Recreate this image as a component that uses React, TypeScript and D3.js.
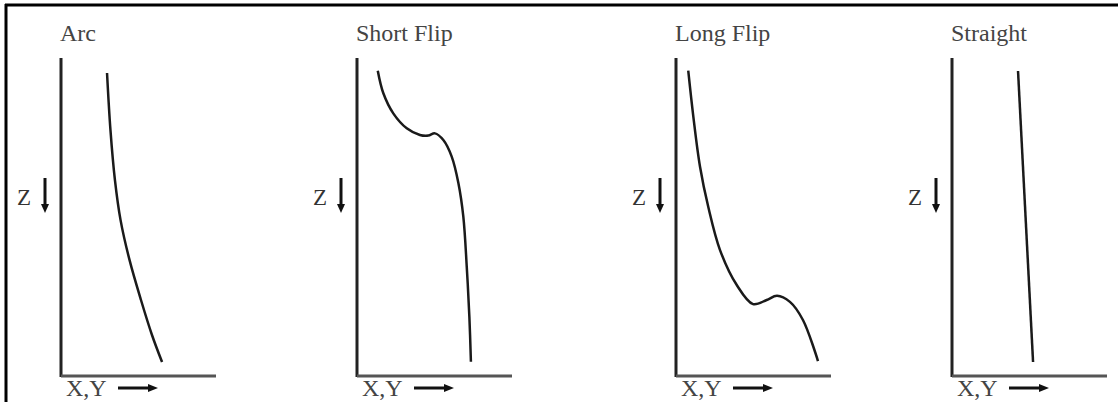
import * as d3 from 'd3';
import React from 'react';

// panel titles, left to right
const titles = ['Arc', 'Short Flip', 'Long Flip', 'Straight'];

// each profile: [lateral X,Y offset, depth Z], both 0..100 of the panel's axis
const arcProfile: [number, number][] = [
    [29.7, 4.7], [31.9, 22.6], [34.8, 38.4], [38.4, 50.9], [44.2, 63.5],
    [51.6, 76.1], [58.7, 87.1], [65.2, 95.6],
];
const shortFlipProfile: [number, number][] = [
    [13.4, 4], [17, 11.1], [23.4, 17.4], [32.1, 22.1], [40.6, 24.2], [46, 24.4],
    [50.3, 23.7], [55.7, 25.8], [61.1, 31], [65.4, 39.3], [68.6, 49.9],
    [70.8, 65.6], [72.5, 81.4], [73.5, 95.5],
];
const longFlipProfile: [number, number][] = [
    [7.9, 4], [11.2, 18.5], [15.5, 34.2], [20.8, 46.8], [28.4, 60.4],
    [39.2, 71.4], [49.7, 77.4], [58.5, 76.1], [65.2, 74.8], [73.5, 76.7],
    [81.9, 82.4], [91.6, 95.3],
];
const straightProfile: [number, number][] = [
    [42.6, 4.1], [52.3, 95.6],
];
const profiles = [arcProfile, shortFlipProfile, longFlipProfile, straightProfile];

const W = 1118;
const H = 402;
const axisLefts = [61, 357, 676, 952];
const axisWidth = 155;
const axisTop = 58;
const axisBottom = 376;
const serif = "'Liberation Serif', 'Times New Roman', serif";

function Panel({ title, profile, left }: { title: string; profile: [number, number][]; left: number }) {
    const x = d3.scaleLinear().domain([0, 100]).range([left, left + axisWidth]);
    const z = d3.scaleLinear().domain([0, 100]).range([axisTop, axisBottom]);
    const line = d3.line<[number, number]>()
        .x(d => x(d[0]))
        .y(d => z(d[1]))
        .curve(d3.curveCatmullRom.alpha(0.5));

    const x0 = x(0);
    const zArrowX = x0 - 16;
    const xyArrowY = 388;

    return (
        <g>
            <text x={x0 - 1} y={41} fontFamily={serif} fontSize={24} fill="#444">{title}</text>
            {/* axes */}
            <line x1={x0} x2={x0} y1={z(0)} y2={z(100) + 1} stroke="#222" strokeWidth={3} />
            <line x1={x0} x2={x(100)} y1={z(100)} y2={z(100)} stroke="#555" strokeWidth={3} />
            {/* Z label with down arrow */}
            <text x={x0 - 44} y={205} fontFamily={serif} fontSize={23} fill="#333">Z</text>
            <line x1={zArrowX} x2={zArrowX} y1={178} y2={205} stroke="#111" strokeWidth={3} />
            <path d={`M${zArrowX - 4},204 L${zArrowX + 4},204 L${zArrowX},213 Z`} fill="#111" />
            {/* X,Y label with right arrow */}
            <text x={x0 + 5} y={396} fontFamily={serif} fontSize={24} fill="#444">X,Y</text>
            <line x1={x0 + 57} x2={x0 + 88} y1={xyArrowY} y2={xyArrowY} stroke="#111" strokeWidth={3} />
            <path d={`M${x0 + 87},${xyArrowY - 4} L${x0 + 87},${xyArrowY + 4} L${x0 + 97},${xyArrowY} Z`} fill="#111" />
            <path d={line(profile) || ''} fill="none" stroke="#1a1a1a" strokeWidth={2.5} />
        </g>
    );
}

export default function App() {
    return (
        <svg width={W} height={H} style={{ position: 'absolute', left: 0, top: 0, background: '#fff' }}>
            <rect x={0} y={0} width={W} height={H} fill="#fff" />
            {/* frame */}
            <line x1={5} x2={W} y1={5} y2={5} stroke="#000" strokeWidth={3} />
            <line x1={6} x2={6} y1={4} y2={H} stroke="#000" strokeWidth={3} />
            {titles.map((t, i) => (
                <Panel key={t} title={t} profile={profiles[i]} left={axisLefts[i]} />
            ))}
        </svg>
    );
}
